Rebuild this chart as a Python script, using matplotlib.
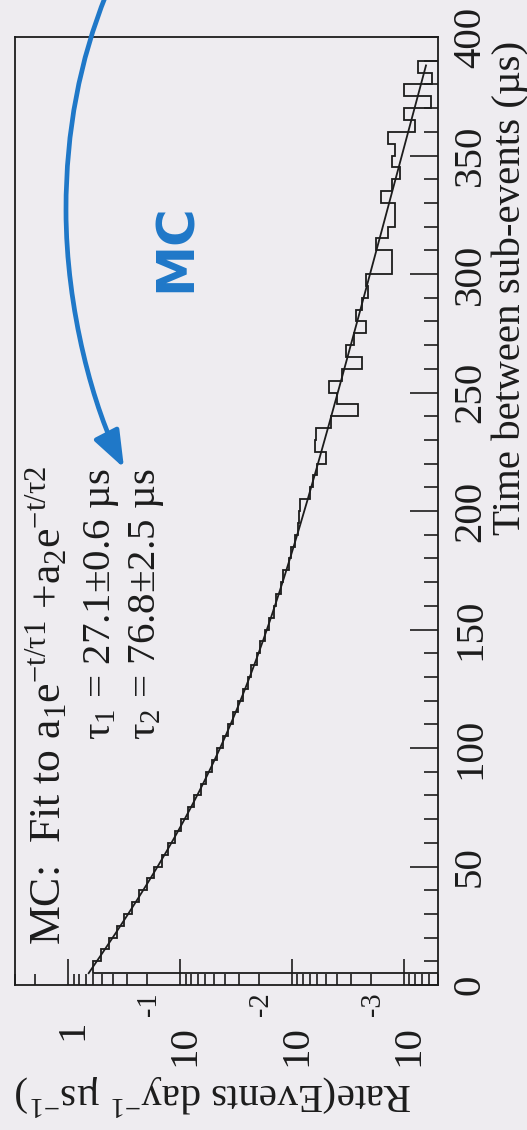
import numpy as np
import matplotlib
matplotlib.use("Agg")
import matplotlib.pyplot as plt
from matplotlib import transforms
from matplotlib.transforms import offset_copy
from matplotlib.patches import FancyArrowPatch
from matplotlib.path import Path
from matplotlib.ticker import LogLocator, MultipleLocator, NullFormatter

plt.rcParams['font.family'] = ['Liberation Serif', 'DejaVu Serif']
plt.rcParams['mathtext.fontset'] = 'custom'
plt.rcParams['mathtext.rm'] = 'Liberation Serif'
plt.rcParams['mathtext.it'] = 'Liberation Serif:italic'
plt.rcParams['mathtext.bf'] = 'Liberation Serif:bold'
plt.rcParams['mathtext.default'] = 'rm'

# ---- data -------------------------------------------------------------
# MC distribution of the time between sub-events: 5 us bins from 5 us,
# rate in events day^-1 us^-1
bin_start = 5.0
bin_width = 5.0
mc_rate = [
    0.606, 0.512, 0.438, 0.370, 0.317, 0.268, 0.233, 0.198, 0.173, 0.147,
    0.130, 0.111, 0.098, 0.085, 0.076, 0.066, 0.059, 0.052, 0.047, 0.042,
    0.0375, 0.034, 0.0305, 0.0278, 0.0250, 0.0232, 0.0208, 0.0193, 0.0174, 0.0163,
    0.0147, 0.0139, 0.0126, 0.0120, 0.0108, 0.0102, 0.0094, 0.0089, 0.0088, 0.0085,
    0.0070, 0.0066, 0.0060, 0.0050, 0.0063, 0.0062, 0.0045, 0.0026, 0.0040, 0.0047,
    0.0036, 0.0024, 0.0033, 0.0028, 0.0022, 0.0027, 0.0024, 0.0021, 0.0022, 0.0013,
    0.0013, 0.0018, 0.0014, 0.0012, 0.0012, 0.0016, 0.0013, 0.0011, 0.0013, 0.0012,
    0.0014, 0.0008, 0.0010, 0.00058, 0.0010, 0.00056, 0.00076,
]

# double-exponential fit a1*exp(-t/tau1) + a2*exp(-t/tau2)
a1, tau1, tau1_err = 0.68, 27.1, 0.6
a2, tau2, tau2_err = 0.10, 76.8, 2.5
fit_lo, fit_hi = 5.0, 388.0

rate_decades = [1, 0.1, 0.01, 0.001]
decade_exps = [0, -1, -2, -3]
time_ticks = list(range(0, 401, 50))

# ---- figure -----------------------------------------------------------
W, H = 527, 1130
BG = '#eeecf0'
INK = '#1c1c1c'
BLUE = '#1f78c8'
FS = 29.5

fig = plt.figure(figsize=(W / 100, H / 100), dpi=100)
fig.patch.set_facecolor(BG)


def fxy(px, py):
    """pixel position (from the top-left corner) -> figure fraction"""
    return px / W, 1 - py / H


ax_l, ax_r, ax_t, ax_b = 15, 438, 37, 985
ax = fig.add_axes([ax_l / W, 1 - ax_b / H, (ax_r - ax_l) / W, (ax_b - ax_t) / H])
ax.set_facecolor(BG)

# rate runs along x (log, decreasing to the right), time along y
ax.set_xscale('log')
ax.set_xlim(3, 5e-4)
ax.set_ylim(0, 400)

edges = bin_start + bin_width * np.arange(len(mc_rate) + 1)
ax.stairs(mc_rate, edges, orientation='horizontal', baseline=1e-7,
          color=INK, lw=1.3)

t_fit = np.linspace(fit_lo, fit_hi, 500)
r_fit = a1 * np.exp(-t_fit / tau1) + a2 * np.exp(-t_fit / tau2)
ax.plot(r_fit, t_fit, color=INK, lw=1.3)

for s in ax.spines.values():
    s.set_color(INK)
    s.set_linewidth(1.3)

ax.xaxis.set_major_locator(LogLocator(base=10, numticks=10))
ax.xaxis.set_minor_locator(LogLocator(base=10, subs=np.arange(2, 10), numticks=20))
ax.xaxis.set_major_formatter(NullFormatter())
ax.xaxis.set_minor_formatter(NullFormatter())
ax.yaxis.set_major_locator(MultipleLocator(50))
ax.yaxis.set_minor_locator(MultipleLocator(10))
ax.tick_params(axis='x', which='both', direction='in', bottom=True, top=False,
               labelbottom=False, color=INK, width=1.2)
ax.tick_params(axis='x', which='major', length=19)
ax.tick_params(axis='x', which='minor', length=8)
ax.tick_params(axis='y', which='both', direction='in', right=True, left=False,
               labelleft=False, labelright=False, color=INK, width=1.2)
ax.tick_params(axis='y', which='major', length=20)
ax.tick_params(axis='y', which='minor', length=10)

# rate tick labels (read along the rotated page)
xt = transforms.blended_transform_factory(ax.transData, ax.transAxes)
for d, e in zip(rate_decades, decade_exps):
    if e == 0:
        ax.text(d, 0, '1', transform=offset_copy(xt, fig=fig, x=14, y=-35, units='dots'),
                rotation=90, rotation_mode='anchor', ha='right', va='baseline',
                fontsize=FS, color=INK)
    else:
        ax.text(d, 0, '10', transform=offset_copy(xt, fig=fig, x=14, y=-40, units='dots'),
                rotation=90, rotation_mode='anchor', ha='right', va='baseline',
                fontsize=FS, color=INK)
        ax.text(d, 0, '-%d' % abs(e),
                transform=offset_copy(xt, fig=fig, x=-24, y=-7, units='dots'),
                rotation=90, rotation_mode='anchor', ha='right', va='baseline',
                fontsize=FS * 0.7, color=INK)

# time tick labels
yt = transforms.blended_transform_factory(ax.transAxes, ax.transData)
for v in time_ticks:
    ax.text(1, v, str(v), transform=offset_copy(yt, fig=fig, x=42, y=0, units='dots'),
            rotation=90, rotation_mode='anchor', ha='center', va='baseline',
            fontsize=FS, color=INK)

# axis titles
ax.text(1, 400, 'Time between sub-events (µs)',
        transform=offset_copy(yt, fig=fig, x=82, y=-4, units='dots'),
        rotation=90, rotation_mode='anchor', ha='right', va='baseline',
        fontsize=FS, color=INK)
fig.text(*fxy(412, 1083), r'Rate(Events day$^{-1}$ µs$^{-1}$)',
         rotation=180, rotation_mode='anchor', ha='left', va='baseline',
         fontsize=FS, color=INK)

# fit annotation
fig.text(*fxy(60, 945), r'MC:  Fit to a$_1$e$^{-t/\tau1}$ +a$_2$e$^{-t/\tau2}$',
         rotation=90, rotation_mode='anchor', ha='left', va='baseline',
         fontsize=FS + 2, color=INK)
fig.text(*fxy(110, 740), r'$\tau_1$ = %.1f±%.1f µs' % (tau1, tau1_err),
         rotation=90, rotation_mode='anchor', ha='left', va='baseline',
         fontsize=FS, color=INK)
fig.text(*fxy(155, 740), r'$\tau_2$ = %.1f±%.1f µs' % (tau2, tau2_err),
         rotation=90, rotation_mode='anchor', ha='left', va='baseline',
         fontsize=FS, color=INK)

# blue "MC" call-out with curved arrow
fig.text(*fxy(191, 292), 'MC', rotation=90, rotation_mode='anchor',
         ha='left', va='baseline', fontsize=37, fontweight='bold',
         family=['DejaVu Sans'], color=BLUE)

pts = [(106, -5), (80, 60), (66, 130), (66, 210),
       (66, 310), (94, 410), (124, 468)]
verts = [fxy(*p) for p in pts]
codes = [Path.MOVETO] + [Path.CURVE4] * 6
arrow = FancyArrowPatch(path=Path(verts, codes), transform=fig.transFigure,
                        arrowstyle='-|>,head_length=1.6,head_width=0.6',
                        mutation_scale=14, color=BLUE, lw=3.4)
fig.patches.append(arrow)

fig.savefig('out.png', dpi=100, facecolor=BG)
